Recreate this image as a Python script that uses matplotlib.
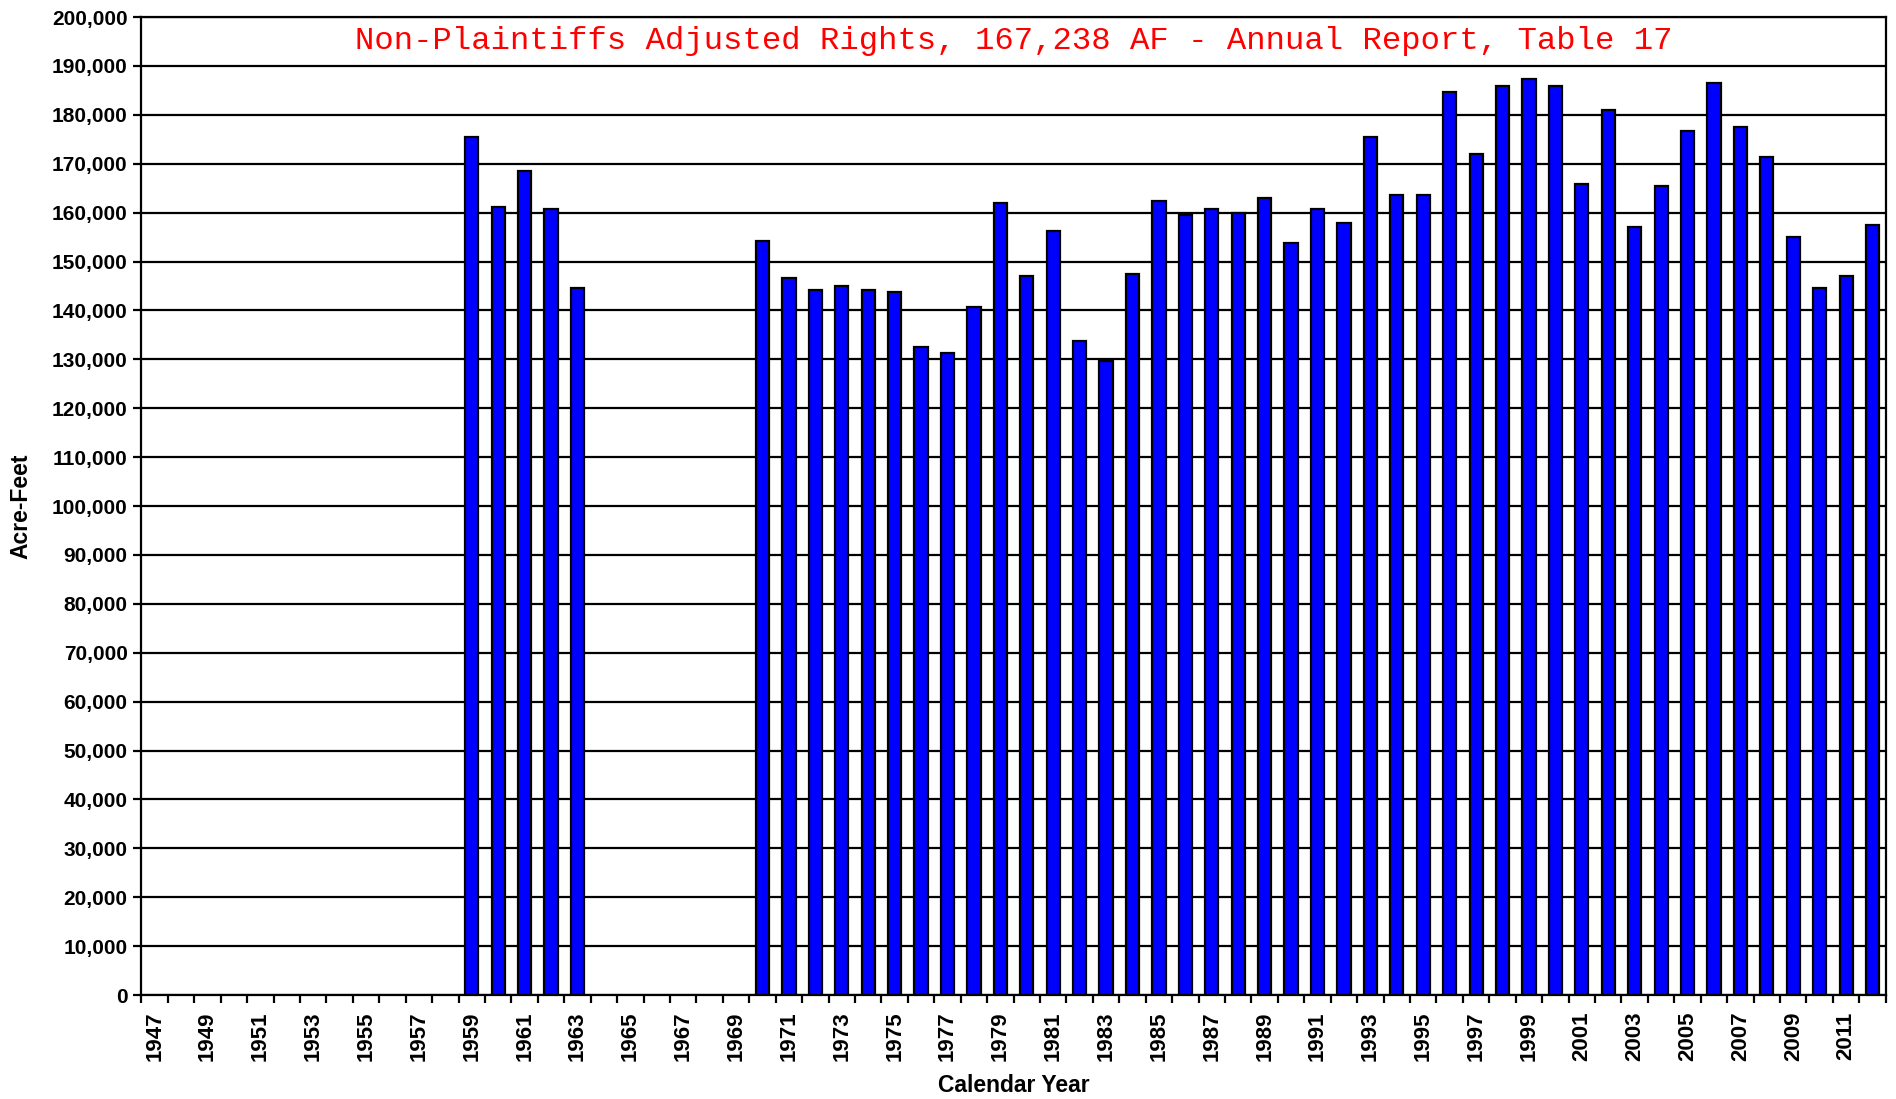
import numpy as np
import matplotlib
matplotlib.use("Agg")
import matplotlib.pyplot as plt
from matplotlib.ticker import FuncFormatter, MultipleLocator

# data (acre-feet), None = no record
years = list(range(1947, 2013))
values = [None]*12 + [175400, 161200, 168600, 160800, 144500] + [None]*6 + [
    154150, 146600, 144150, 144900, 144150, 143700, 132450, 131200, 140800, 162000,
    147000, 156260, 133700, 129600, 147400, 162400, 159600, 160800, 159900, 162900,
    153700, 160800, 157900, 175400, 163700, 163700, 184600, 172000, 185850, 187400,
    185850, 165850, 180900, 157100, 165400, 176700, 186600, 177500, 171300, 155000,
    144600, 147000, 157550]

title_txt = "Non-Plaintiffs Adjusted Rights, 167,238 AF - Annual Report, Table 17"

plt.rcParams['font.family'] = ['Liberation Sans', 'DejaVu Sans']

fig = plt.figure(figsize=(18.96, 10.99), dpi=100)
ax = fig.add_axes([0.0746, 0.0946, 0.92, 0.8899])

idx = np.arange(len(years))
bx = [i for i, v in zip(idx, values) if v is not None]
bh = [v for v in values if v is not None]
ax.bar(bx, bh, width=0.5, color="#0000ff", edgecolor="black", linewidth=1.6, zorder=3)

ax.set_xlim(-0.5, len(years) - 0.5)
ax.set_ylim(0, 200000)

# gridlines
ax.yaxis.set_major_locator(MultipleLocator(10000))
ax.grid(axis='y', color='black', linewidth=1.6, zorder=1)
ax.yaxis.set_major_formatter(FuncFormatter(lambda v, p: "{:,.0f}".format(v)))

# x ticks: labels on every other year, tick marks between categories
ax.set_xticks(idx[::2])
ax.set_xticklabels([str(y) for y in years[::2]], rotation=90)
ax.set_xticks(np.arange(-0.5, len(years)), minor=True)
ax.tick_params(axis='x', which='major', length=0, pad=12)
ax.tick_params(axis='x', which='minor', length=6, width=1.6, direction='out')
ax.tick_params(axis='y', length=6, width=1.6, pad=4)

for lab in ax.get_xticklabels():
    lab.set_fontweight('bold')
    lab.set_fontsize(16)
for lab in ax.get_yticklabels():
    lab.set_fontweight('bold')
    lab.set_fontsize(15)

for s in ax.spines.values():
    s.set_linewidth(1.6)

ax.set_xlabel("Calendar Year", fontsize=16.5, fontweight='bold', labelpad=9)
ax.set_ylabel("Acre-Feet", fontsize=16.5, fontweight='bold', labelpad=14)

ax.text(0.5, 195000, title_txt, transform=ax.get_yaxis_transform(), ha='center', va='center',
        color='red', fontsize=23.2, family='Liberation Mono')

plt.savefig("out.png", dpi=100)
